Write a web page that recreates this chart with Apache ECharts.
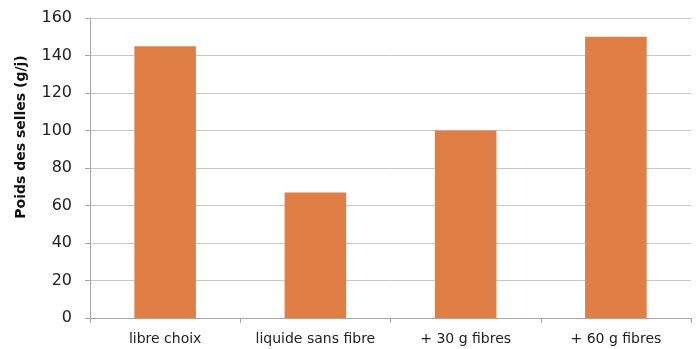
<!DOCTYPE html>
<html><head><meta charset="utf-8">
<script src="https://cdn.jsdelivr.net/npm/echarts@6/dist/echarts.min.js"></script>
<style>html,body{margin:0;padding:0;background:#fff}#c{width:696px;height:349px}</style>
</head><body><div id="c"></div>
<script>
const categories = ['libre choix', 'liquide sans fibre', '+ 30 g fibres', '+ 60 g fibres'];
const values = [145, 67, 100, 150];
const yTicks = [0, 20, 40, 60, 80, 100, 120, 140, 160];
const yName = 'Poids des selles (g/j)';

const FONT = '"DejaVu Sans", sans-serif';
const chart = echarts.init(document.getElementById('c'));
chart.setOption({
  animation: false,
  grid: { left: 90, right: 5, top: 18, bottom: 31, containLabel: false },
  graphic: [{
    type: 'text', x: 21, y: 137, rotation: Math.PI / 2,
    style: { text: yName, font: 'bold 14px ' + FONT, fill: '#111', align: 'center', verticalAlign: 'middle' }
  }],
  xAxis: {
    type: 'category', data: categories,
    axisLine: { lineStyle: { color: '#a6a6a6', width: 1 } },
    axisTick: { show: true, length: 5, lineStyle: { color: '#a6a6a6' } },
    axisLabel: { color: '#222', fontSize: 14, fontFamily: FONT, margin: 14, interval: 0, hideOverlap: false }
  },
  yAxis: {
    type: 'value', min: yTicks[0], max: yTicks[yTicks.length - 1], interval: 20,
    axisLine: { show: true, lineStyle: { color: '#a6a6a6' } },
    axisTick: { show: true, length: 5, lineStyle: { color: '#a6a6a6' } },
    axisLabel: { color: '#222', fontSize: 16, fontFamily: FONT, margin: 18 },
    splitLine: { lineStyle: { color: '#c8c8c8', width: 1 } }
  },
  series: [{
    type: 'bar', data: values, barWidth: '41%',
    itemStyle: { color: '#e07f45' }
  }]
});
</script></body></html>
